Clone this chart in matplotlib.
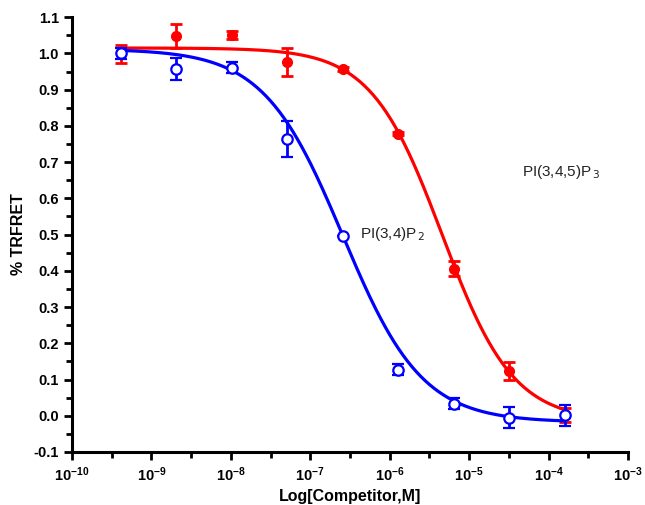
import numpy as np
import matplotlib
matplotlib.use("Agg")
import matplotlib.pyplot as plt
from matplotlib.ticker import FixedLocator, FuncFormatter, MultipleLocator

plt.rcParams['font.family'] = ['Liberation Sans', 'DejaVu Sans']
plt.rcParams['mathtext.fontset'] = 'custom'
plt.rcParams['mathtext.rm'] = 'Liberation Sans:bold'
plt.rcParams['mathtext.bf'] = 'Liberation Sans:bold'
plt.rcParams['mathtext.it'] = 'Liberation Sans:bold'

# competitor concentrations (M), 5-fold dilution series
conc = [4.1e-10, 2.05e-9, 1.02e-8, 5.12e-8, 2.56e-7, 1.28e-6, 6.4e-6, 3.2e-5, 1.6e-4]

# PI(3,4,5)P3
pip3_mean = [0.998, 1.048, 1.051, 0.977, 0.957, 0.778, 0.406, 0.124, 0.002]
pip3_err = [0.025, 0.033, 0.010, 0.038, 0.005, 0.004, 0.020, 0.024, 0.020]
# PI(3,4)P2
pip2_mean = [1.000, 0.957, 0.960, 0.764, 0.497, 0.127, 0.033, -0.005, 0.001]
pip2_err = [0.015, 0.030, 0.015, 0.050, 0.000, 0.015, 0.015, 0.030, 0.030]

# fitted sigmoid parameters: top, bottom, logIC50, hill slope
pip3_fit = [1.015, -0.015, -5.34, 0.97]
pip2_fit = [1.012, -0.018, -6.59, 0.87]


def sigmoid(logx, top, bottom, logic50, hill):
    return bottom + (top - bottom) / (1 + 10 ** ((logx - logic50) * hill))


fig = plt.figure(figsize=(6.45, 5.05), dpi=100)
ax = fig.add_axes([0.1116, 0.105, 0.862, 0.861])

logc = np.log10(conc)
xs = np.linspace(logc[0], logc[-1], 300)

ax.plot(10 ** xs, sigmoid(xs, *pip3_fit), color='#ff0000', lw=2.3, zorder=2)
ax.errorbar(conc, pip3_mean, yerr=pip3_err, fmt='o', color='#ff0000', ms=7,
            capsize=4.5, capthick=2, elinewidth=2, zorder=3)

ax.plot(10 ** xs, sigmoid(xs, *pip2_fit), color='#0000ff', lw=2.3, zorder=4)
ax.errorbar(conc, pip2_mean, yerr=pip2_err, fmt='o', color='#0000ff', mfc='white',
            mew=1.6, ms=7.5, capsize=4.5, capthick=2, elinewidth=2, zorder=5)

ax.set_xscale('log')
ax.set_xlim(1e-10, 1e-3)
ax.set_ylim(-0.1, 1.1)

ax.xaxis.set_major_locator(FixedLocator([10.0 ** k for k in range(-10, -2)]))
ax.xaxis.set_minor_locator(FixedLocator([10.0 ** (k + 0.5) for k in range(-10, -3)]))
ax.xaxis.set_major_formatter(FuncFormatter(lambda v, p: r'$10^{%d}$' % round(np.log10(v))))
ax.yaxis.set_major_locator(MultipleLocator(0.1))
ax.yaxis.set_minor_locator(MultipleLocator(0.05))
ax.yaxis.set_major_formatter(FuncFormatter(lambda v, p: '%.1f' % v))

for s in ['top', 'right']:
    ax.spines[s].set_visible(False)
for s in ['left', 'bottom']:
    ax.spines[s].set_linewidth(2.2)
ax.tick_params(which='major', length=6, width=2, labelsize=10.5)
ax.tick_params(which='minor', length=4, width=2)
for lab in ax.get_yticklabels():
    lab.set_fontweight('bold')

ax.set_xlabel('Log[Competitor,M]', fontsize=11.5, fontweight='bold', labelpad=4)
ax.set_ylabel('% TRFRET', fontsize=11.5, fontweight='bold', labelpad=5)

ax.text(10 ** -4.34, 0.672, r'PI(3,4,5)P$_{\,3}$', fontsize=11, color='#222222', va='center',
        math_fontfamily='dejavusans')
ax.text(10 ** -6.38, 0.502, r'PI(3,4)P$_{\,2}$', fontsize=11, color='#222222', va='center',
        math_fontfamily='dejavusans')

fig.savefig('out.png', dpi=100)
